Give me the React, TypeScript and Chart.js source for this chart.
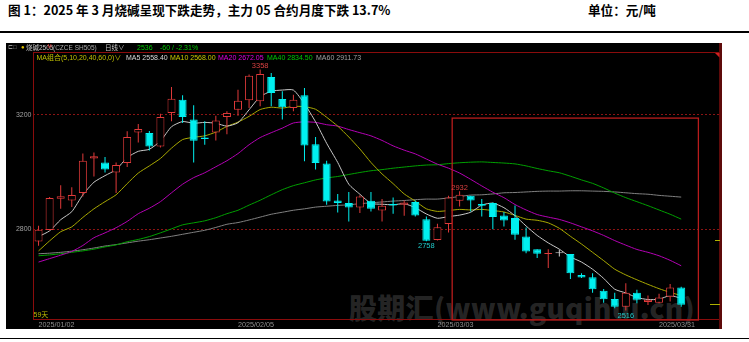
import React, { useEffect, useRef } from 'react';
import { Chart, registerables } from 'chart.js';

Chart.register(...registerables);

// ---------- data ----------
const dates = [
  '2025/01/02','2025/01/03','2025/01/06','2025/01/07','2025/01/08','2025/01/09','2025/01/10',
  '2025/01/13','2025/01/14','2025/01/15','2025/01/16','2025/01/17',
  '2025/01/20','2025/01/21','2025/01/22','2025/01/23','2025/01/24','2025/01/27',
  '2025/02/05','2025/02/06','2025/02/07','2025/02/10','2025/02/11','2025/02/12','2025/02/13','2025/02/14',
  '2025/02/17','2025/02/18','2025/02/19','2025/02/20','2025/02/21',
  '2025/02/24','2025/02/25','2025/02/26','2025/02/27','2025/02/28',
  '2025/03/03','2025/03/04','2025/03/05','2025/03/06','2025/03/07',
  '2025/03/10','2025/03/11','2025/03/12','2025/03/13','2025/03/14',
  '2025/03/17','2025/03/18','2025/03/19','2025/03/20','2025/03/21',
  '2025/03/24','2025/03/25','2025/03/26','2025/03/27','2025/03/28',
  '2025/03/31','2025/04/01','2025/04/02',
];
const futureSlots = 3;

const opens = [2757,2797,2906,2900,2926,3047,3033,2998,3031,3138,3136,3089,3206,3252,3183,3120,3138,3192,3217,3250,3247,3332,3255,3223,3268,3097,3029,2900,2891,2876,2899,2865,2888,2885,2895,2835,2762,2818,2899,2917,2888,2891,2848,2839,2774,2730,2713,2716,2713,2640,2632,2585,2556,2529,2578,2545,2543,2564,2596];
const highs = [2812,2912,2953,2946,3064,3068,3052,3033,3142,3167,3143,3203,3297,3268,3233,3177,3196,3212,3287,3340,3358,3346,3282,3270,3293,3122,3039,2923,2930,2918,2930,2905,2911,2900,2900,2844,2819,2917,2932,2917,2905,2893,2860,2883,2806,2730,2730,2728,2713,2646,2646,2591,2578,2611,2588,2568,2574,2608,2599];
const lows = [2742,2795,2871,2877,2914,2984,2998,2926,3017,3103,3075,3085,3177,3171,3033,3095,3110,3132,3196,3223,3229,3229,3183,3212,3037,3008,2885,2858,2827,2856,2862,2827,2854,2847,2844,2758,2760,2788,2879,2862,2844,2800,2809,2763,2716,2699,2664,2704,2626,2629,2578,2543,2524,2516,2541,2535,2541,2547,2529];
const closes = [2798,2909,2915,2919,3039,3055,3008,3024,3122,3150,3089,3192,3256,3192,3109,3115,3180,3206,3249,3336,3342,3276,3226,3252,3092,3031,2897,2891,2876,2914,2871,2882,2883,2893,2848,2759,2807,2911,2920,2900,2882,2842,2830,2780,2722,2714,2716,2716,2646,2631,2590,2555,2529,2578,2553,2553,2561,2596,2536];

const ma5 = [2774,2794,2833,2861,2920,2964,2987,3008,3050,3072,3079,3108,3158,3176,3170,3173,3170,3160,3172,3217,3263,3282,3286,3286,3238,3175,3100,3033,2957,2922,2890,2887,2885,2889,2875,2853,2838,2844,2849,2859,2884,2891,2875,2847,2811,2778,2752,2730,2703,2685,2660,2628,2590,2577,2561,2554,2555,2568,2558];
const ma10 = [2724,2759,2791,2808,2841,2871,2896,2920,2959,2996,3021,3047,3083,3113,3121,3126,3139,3159,3174,3194,3218,3226,3223,3229,3228,3219,3191,3160,3122,3080,3033,2993,2959,2923,2898,2871,2862,2865,2869,2867,2869,2865,2860,2848,2835,2831,2822,2803,2775,2748,2719,2690,2660,2640,2623,2607,2592,2579,2568];
const ma20 = [2685,2697,2709,2722,2743,2770,2787,2805,2827,2854,2873,2896,2927,2957,2980,2997,3018,3039,3064,3095,3120,3137,3153,3171,3175,3173,3165,3160,3148,3137,3126,3110,3091,3076,3063,3045,3027,3013,2996,2974,2951,2929,2910,2886,2867,2851,2842,2834,2822,2808,2794,2778,2760,2744,2729,2719,2707,2691,2672];
const ma40 = [2707,2710,2714,2719,2724,2730,2738,2745,2756,2764,2774,2787,2801,2815,2822,2829,2840,2854,2866,2884,2901,2920,2938,2952,2962,2972,2979,2984,2991,2998,3004,3008,3013,3017,3021,3024,3025,3029,3032,3034,3035,3033,3031,3028,3021,3012,3004,2997,2985,2972,2960,2944,2926,2910,2896,2882,2867,2852,2835];
const ma60 = [2714,2716,2719,2723,2728,2734,2741,2746,2752,2758,2763,2769,2775,2782,2789,2796,2806,2817,2823,2832,2842,2852,2859,2866,2871,2877,2880,2883,2885,2889,2892,2895,2898,2900,2903,2905,2905,2909,2914,2919,2920,2923,2927,2928,2930,2932,2933,2933,2934,2934,2933,2932,2930,2927,2924,2922,2918,2915,2912];

const maNames = ['MA5', 'MA10', 'MA20', 'MA40', 'MA60'];
const maLastValues = ['2558.40', '2568.00', '2672.05', '2834.50', '2911.73'];
const maColors = ['#c8c8c8', '#a8a800', '#b400b4', '#00a000', '#808080'];
const maTextColors = ['#d8d8d8', '#c8c800', '#e000e0', '#00c800', '#a0a0a0'];

const yTickValues = [2800, 3200];
const xTickLabels = ['2025/01/02', '2025/02/05', '2025/03/03', '2025/03/31'];

// extreme labels
const highMarkIdx = [20, 38];
const lowMarkIdx = [35, 53];

// highlighted box (category-index span, top price)
const boxFromIdx = 37.33;
const boxToIdx = 59.55;
const boxTopPrice = 3188;

// right-edge price markers
const rightMarks = [2763, 2539];

const lastPrice = '2536';
const lastChange = '-60 / -2.31%';

const yMin = 2486;
const yMax = 3419;

const UP = '#e03a3a';
const DOWN = '#00f0f0';
const FLAT = '#d0d0d0';

const candleColor = (i: number) =>
  closes[i] > opens[i] ? UP : closes[i] < opens[i] ? DOWN : FLAT;

const overlayPlugin = {
  id: 'overlay',
  afterDatasetsDraw(chart: any) {
    const { ctx, chartArea: ca, scales } = chart;
    const x = scales.x;
    const y = scales.y;
    ctx.save();
    // frame
    ctx.strokeStyle = '#8a0c0c';
    ctx.lineWidth = 1;
    ctx.strokeRect(ca.left + 0.5, ca.top + 0.5, ca.right - ca.left, ca.bottom - ca.top);
    // right thick edge
    ctx.fillStyle = '#5e0a0a';
    ctx.fillRect(chart.width - 3, 0, 3, chart.height);
    // small triangle top-right
    ctx.fillStyle = '#d02020';
    ctx.beginPath();
    ctx.moveTo(ca.right - 5, ca.top + 1);
    ctx.lineTo(ca.right - 0.5, ca.top + 1);
    ctx.lineTo(ca.right - 0.5, ca.top + 5.5);
    ctx.closePath();
    ctx.fill();
    // highlight box
    const bx1 = x.getPixelForValue(boxFromIdx);
    const bx2 = x.getPixelForValue(boxToIdx);
    const by1 = y.getPixelForValue(boxTopPrice);
    ctx.strokeStyle = '#b81c1c';
    ctx.lineWidth = 1.3;
    ctx.strokeRect(bx1, by1, bx2 - bx1, ca.bottom + 1 - by1);
    // right markers
    ctx.strokeStyle = '#b0b000';
    ctx.lineWidth = 1;
    rightMarks.forEach((v, k) => {
      const py = Math.round(y.getPixelForValue(v)) + 0.5;
      ctx.beginPath();
      ctx.moveTo(ca.right - (k === 0 ? 5 : 10), py);
      ctx.lineTo(ca.right, py);
      ctx.stroke();
    });
    // extreme labels
    ctx.font = '7.5px "Liberation Sans", Arial, sans-serif';
    ctx.textAlign = 'center';
    ctx.fillStyle = '#d84040';
    ctx.textBaseline = 'bottom';
    highMarkIdx.forEach((i) => {
      ctx.fillText(String(highs[i]), x.getPixelForValue(i), y.getPixelForValue(highs[i]) + 0.5);
    });
    ctx.fillStyle = '#20c8c8';
    ctx.textBaseline = 'top';
    lowMarkIdx.forEach((i) => {
      ctx.fillText(String(lows[i]), x.getPixelForValue(i), y.getPixelForValue(lows[i]) + 1.5);
    });
    ctx.restore();
  },
};

export default function App() {
  const canvasRef = useRef<HTMLCanvasElement | null>(null);

  useEffect(() => {
    const canvas = canvasRef.current;
    if (!canvas) return;
    const categories = [...dates, ...Array(futureSlots).fill('')];
    const colors = dates.map((_, i) => candleColor(i));
    const bodyFill = dates.map((_, i) => (closes[i] > opens[i] ? '#000000' : candleColor(i)));

    const lineDs = [ma5, ma10, ma20, ma40, ma60].map((d, k) => ({
      type: 'line' as const,
      label: maNames[k],
      data: d,
      borderColor: maColors[k],
      borderWidth: 1,
      pointRadius: 0,
      tension: 0.2,
      fill: false,
      order: 5,
    }));

    const chart = new Chart(canvas, {
      type: 'bar',
      data: {
        labels: categories,
        datasets: [
          ...lineDs,
          {
            type: 'bar',
            label: 'wick',
            data: dates.map((_, i) => [lows[i], highs[i]]),
            backgroundColor: colors,
            borderWidth: 0,
            barThickness: 1,
            grouped: false,
            inflateAmount: 0,
            order: 2,
          } as any,
          {
            type: 'bar',
            label: 'body',
            data: dates.map((_, i) => [opens[i], closes[i]]),
            backgroundColor: bodyFill,
            borderColor: colors,
            borderWidth: 1,
            borderSkipped: false,
            barThickness: 8,
            minBarLength: 1,
            grouped: false,
            inflateAmount: 0,
            order: 1,
          } as any,
        ],
      },
      options: {
        responsive: false,
        animation: false,
        devicePixelRatio: 1,
        layout: { padding: { top: 9, right: 2, left: 0, bottom: 0 } },
        plugins: { legend: { display: false }, tooltip: { enabled: false } },
        scales: {
          x: {
            type: 'category',
            offset: true,
            grid: { display: false, drawTicks: false },
            border: { display: false },
            afterFit: (s: any) => { s.height = 10; },
            ticks: {
              autoSkip: false,
              maxRotation: 0,
              minRotation: 0,
              align: 'start',
              padding: 2,
              color: '#909090',
              font: { size: 7.2, family: '"Liberation Sans", Arial, sans-serif' },
              callback: (v: any) => {
                const l = categories[v as number];
                return xTickLabels.includes(l) ? l : '';
              },
            },
          },
          y: {
            type: 'linear',
            min: yMin,
            max: yMax,
            afterFit: (s: any) => { s.width = 27; },
            afterBuildTicks: (s: any) => { s.ticks = yTickValues.map((v) => ({ value: v })); },
            grid: { color: '#8a1414', lineWidth: 1, drawTicks: false },
            border: { display: false, dash: [2, 2] },
            ticks: {
              padding: 1.5,
              color: '#a0a0a0',
              font: { size: 7, family: '"Liberation Sans", Arial, sans-serif' },
              callback: (v: any) => String(v),
            },
          },
        },
      },
      plugins: [overlayPlugin],
    });
    return () => chart.destroy();
  }, []);

  const hdr: React.CSSProperties = {
    position: 'absolute',
    fontFamily: '"Liberation Sans", Arial, "Noto Sans CJK SC", sans-serif',
    fontSize: 7,
    lineHeight: '9px',
    whiteSpace: 'nowrap',
  };
  const maX = [126, 170, 218, 267, 316];
  const titleStyle: React.CSSProperties = {
    position: 'absolute',
    top: 3,
    fontFamily: '"Noto Sans CJK SC", sans-serif',
    fontWeight: 700,
    fontSize: 12.6,
    lineHeight: '14px',
    color: '#000',
    whiteSpace: 'nowrap',
  };

  return (
    <div style={{ position: 'absolute', left: 0, top: 0, width: 749, height: 342, background: '#fff', overflow: 'hidden' }}>
      <div style={{ ...titleStyle, left: 8 }}>
        图 1：2025 年 3 月烧碱呈现下跌走势，主力 05 合约月度下跌 13.7%
      </div>
      <div style={{ ...titleStyle, left: 588 }}>单位：元/吨</div>
      <div style={{ position: 'absolute', left: 0, top: 31, width: 749, height: 1.5, background: '#000' }} />
      <div style={{ position: 'absolute', left: 0, top: 337.5, width: 749, height: 1.5, background: '#000' }} />

      {/* black panel */}
      <div style={{ position: 'absolute', left: 6, top: 43, width: 716, height: 286, background: '#000' }} />

      {/* watermark */}
      <div style={{ position: 'absolute', left: 349, top: 293, fontFamily: '"Noto Sans CJK SC", sans-serif', fontWeight: 900, fontSize: 28, lineHeight: '28px', letterSpacing: 0.3, color: 'rgba(128,128,128,0.3)', whiteSpace: 'nowrap' }}>
        股期汇(www.guqihui.cn)
      </div>

      <canvas ref={canvasRef} width={716} height={286} style={{ position: 'absolute', left: 6, top: 43, width: 716, height: 286 }} />

      {/* header row 1 */}
      <span style={{ ...hdr, left: 8, top: 42.5, color: '#909090', fontSize: 6 }}>⊏□</span>
      <span style={{ ...hdr, left: 21, top: 42.5, color: '#e0c000', fontSize: 6 }}>●</span>
      <span style={{ ...hdr, left: 26, top: 42.5, color: '#c8c8c8', fontSize: 6.5 }}>烧碱2505</span>
      <span style={{ ...hdr, left: 47.5, top: 41.5, color: '#e03030', fontSize: 5 }}>M</span>
      <span style={{ ...hdr, left: 53, top: 42.5, color: '#a8a8a8', fontSize: 6.5 }}>(CZCE SH505)</span>
      <span style={{ ...hdr, left: 105, top: 42.5, color: '#c8c8c8', fontSize: 6.5 }}>日线∨</span>
      <span style={{ ...hdr, left: 137, top: 42.5, color: '#00c800' }}>{lastPrice}</span>
      <span style={{ ...hdr, left: 160, top: 42.5, color: '#00c800' }}>{lastChange}</span>

      {/* header row 2 */}
      <span style={{ ...hdr, left: 36.5, top: 52.5, color: '#c0c000' }}>MA组合(5,10,20,40,60,0)∨</span>
      {maNames.map((n, k) => (
        <span key={n} style={{ ...hdr, left: maX[k], top: 52.5, color: maTextColors[k] }}>
          {n} {maLastValues[k]}
        </span>
      ))}

      <span style={{ ...hdr, left: 33.5, top: 309.5, color: '#b8b800' }}>59天</span>
    </div>
  );
}
